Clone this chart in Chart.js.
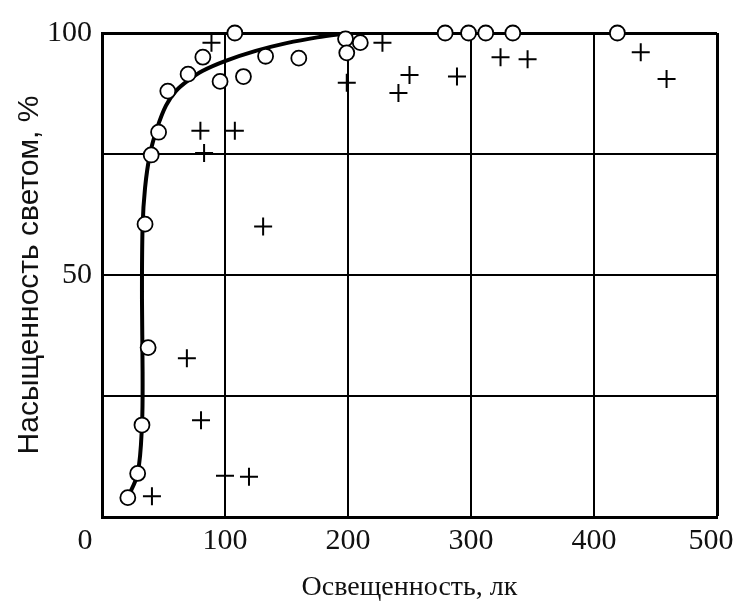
<!DOCTYPE html>
<html>
<head>
<meta charset="utf-8">
<script src="https://cdn.jsdelivr.net/npm/chart.js@4/dist/chart.umd.min.js"></script>
<style>
  html, body { margin: 0; padding: 0; background: #fff; }
  #wrap { width: 736px; height: 603px; }
</style>
</head>
<body>
<div id="wrap"><canvas id="c" width="736" height="603"></canvas></div>
<script>
// Tick labels
const xTicks = [0, 100, 200, 300, 400, 500];
const yTicksLabeled = [50, 100];

// Circles (open markers)
const circleX = [21, 29, 32.5, 37.5, 35, 40, 46, 53.5, 70, 82, 96, 108, 115, 133, 160, 198, 199, 210, 279, 298, 312, 334, 419];
const circleY = [4, 9, 19, 35, 60.5, 74.8, 79.5, 88, 91.5, 95, 90, 100, 91, 95.2, 94.8, 98.8, 95.9, 98, 100, 100, 100, 100, 100];

// Crosses
const crossX = [40.6, 100, 119.5, 80.5, 69, 131, 83, 80, 108, 89, 199, 228, 241, 250, 288.6, 324, 346, 438, 459];
const crossY = [4.3, 8.5, 8.3, 20, 32.8, 60, 75.2, 79.8, 79.8, 98, 89.7, 98, 87.6, 91.3, 91, 95, 94.6, 96, 90.5];

// Fitted curve
const curveX = [21, 29, 32.5, 33, 32.5, 33, 35, 39, 45, 52, 60, 70, 82, 100, 125, 150, 175, 200];
const curveY = [4, 9, 19, 30, 45, 60, 68, 75, 80.5, 85, 88, 90.2, 92.2, 94.2, 96.3, 97.9, 99.1, 100];

const toPts = (xs, ys) => xs.map((x, i) => ({ x: x, y: ys[i] }));

// Edge tick labels of the x axis are set off from their grid lines as in the original
const edgeLabels = {
  id: 'edgeLabels',
  afterDraw(chart) {
    const ctx = chart.ctx;
    const xs = chart.scales.x;
    ctx.save();
    ctx.font = '30px "Liberation Serif"';
    ctx.fillStyle = '#111';
    ctx.textAlign = 'center';
    ctx.textBaseline = 'middle';
    const first = xTicks[0], last = xTicks[xTicks.length - 1];
    ctx.fillText(String(first), xs.getPixelForValue(first) - 17, 541);
    ctx.fillText(String(last), xs.getPixelForValue(last) - 6, 541);
    ctx.restore();
  }
};

new Chart(document.getElementById('c'), {
  type: 'scatter',
  data: {
    datasets: [
      {
        label: 'curve',
        data: toPts(curveX, curveY),
        showLine: true,
        borderColor: '#000',
        borderWidth: 4,
        pointRadius: 0,
        tension: 0.35,
        fill: false,
        order: 3,
        clip: false
      },
      {
        label: 'crosses',
        data: toPts(crossX, crossY),
        pointStyle: 'cross',
        pointRadius: 9,
        pointBorderWidth: 2,
        borderColor: '#000',
        backgroundColor: '#000',
        order: 2,
        clip: false
      },
      {
        label: 'circles',
        data: toPts(circleX, circleY),
        pointStyle: 'circle',
        pointRadius: 7.5,
        pointBorderWidth: 1.8,
        borderColor: '#000',
        backgroundColor: '#fff',
        order: 1,
        clip: false
      }
    ]
  },
  options: {
    responsive: false,
    animation: false,
    layout: { padding: { top: 33, right: 19, left: 0, bottom: 0 } },
    plugins: { legend: { display: false }, tooltip: { enabled: false } },
    scales: {
      x: {
        type: 'linear',
        min: 0,
        max: 500,
        afterFit(s) { s.height = 86; s.paddingLeft = 0; s.paddingRight = 0; },
        afterBuildTicks(s) { s.ticks = xTicks.map(v => ({ value: v })); },
        ticks: {
          padding: 6,
          color: '#111',
          font: { family: '"Liberation Serif"', size: 30 },
          callback: (v) => (v === xTicks[0] || v === xTicks[xTicks.length - 1] ? '' : String(v))
        },
        grid: {
          color: '#000',
          lineWidth: (c) => (c.tick && (c.tick.value === 500) ? 3 : 2),
          drawTicks: false
        },
        border: { color: '#000', width: 3 },
        title: {
          display: true,
          text: 'Освещенность, лк',
          color: '#111',
          font: { family: '"Liberation Serif"', size: 28, lineHeight: 1 },
          padding: { top: 0, bottom: 1 }
        }
      },
      y: {
        type: 'linear',
        min: 0,
        max: 100,
        afterFit(s) { s.width = 102; s.paddingTop = 0; s.paddingBottom = 0; },
        ticks: {
          stepSize: 25,
          padding: 10,
          color: '#111',
          font: { family: '"Liberation Serif"', size: 30 },
          callback: (v) => (yTicksLabeled.includes(v) ? String(v) : '')
        },
        grid: {
          color: '#000',
          lineWidth: (c) => (c.tick && (c.tick.value === 100) ? 3 : 2),
          drawTicks: false
        },
        border: { color: '#000', width: 3 },
        title: {
          display: true,
          text: 'Насыщенность светом, %',
          color: '#111',
          font: { family: '"Liberation Sans"', size: 30, lineHeight: 1 },
          padding: { top: 15, bottom: 0 }
        }
      }
    }
  },
  plugins: [edgeLabels]
});
</script>
</body>
</html>
